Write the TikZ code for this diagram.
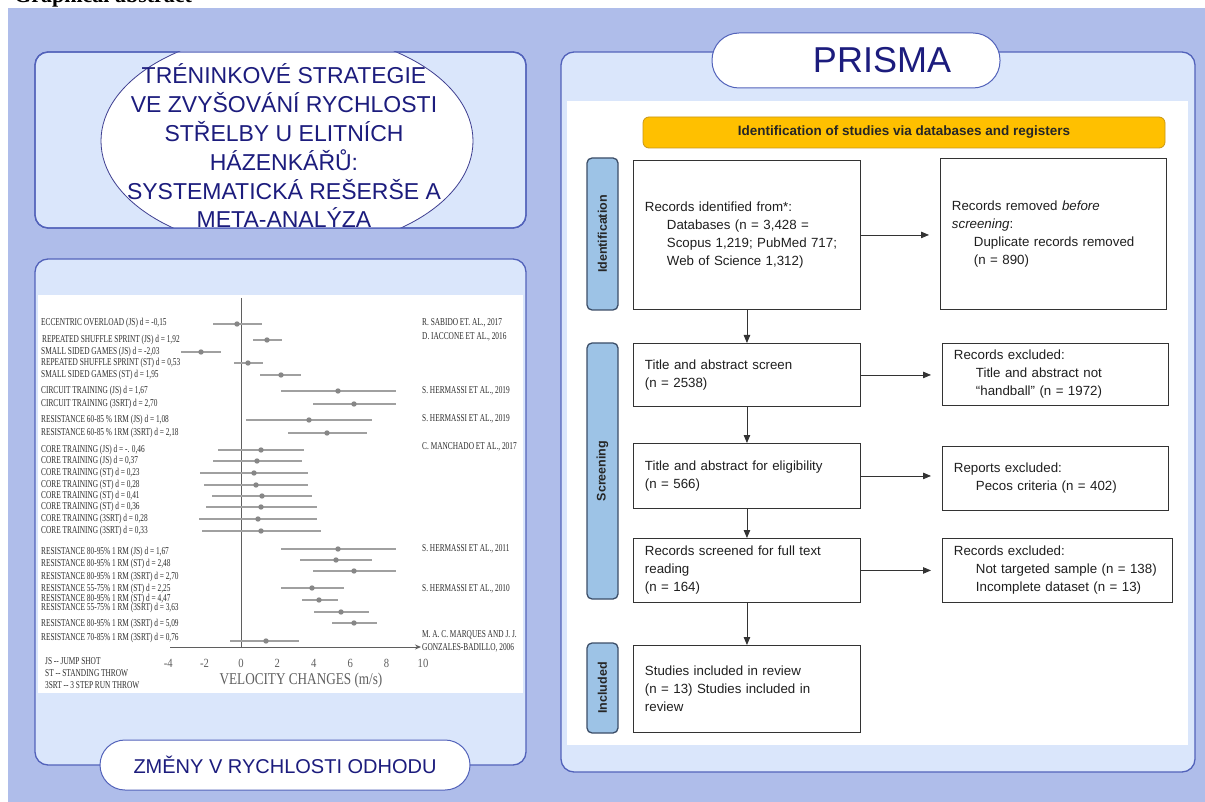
\documentclass[tikz,border=0pt]{standalone}
\usepackage{fontspec}
\setmainfont{Liberation Sans}
\newfontfamily\plotserif{Liberation Serif}
\usepackage{graphicx}
\usetikzlibrary{arrows.meta,shapes.geometric}

\definecolor{bgblue}{RGB}{175,189,234}
\definecolor{panelfill}{RGB}{218,230,251}
\definecolor{panelline}{RGB}{82,98,186}
\definecolor{navy}{RGB}{28,28,125}
\definecolor{phasefill}{RGB}{157,195,230}
\definecolor{phaseline}{RGB}{60,78,104}
\definecolor{gold}{RGB}{255,192,0}
\definecolor{goldline}{RGB}{200,150,20}
\definecolor{cigray}{RGB}{160,160,160}
\definecolor{dotgray}{RGB}{135,135,135}
\definecolor{plottext}{RGB}{45,45,45}
\definecolor{axisgray}{RGB}{95,95,95}

% horizontally condensed text for the forest plot
\newcommand{\cond}[1]{\scalebox{0.7}[1]{#1}}

\begin{document}
\begin{tikzpicture}[x=1pt,y=-1pt,
  panel/.style={draw=panelline,line width=1.3pt,fill=panelfill,rounded corners=13pt},
  pill/.style={draw=panelline,line width=1pt,fill=white,text=navy,inner sep=0pt},
  prbox/.style={draw=black!80,line width=0.9pt,fill=white,anchor=north west,align=left,
    inner xsep=11.5pt,inner ysep=0pt,text=black!88,font=\fontsize{13.3}{18}\selectfont},
  phase/.style={draw=phaseline,line width=1.3pt,fill=phasefill,rounded corners=5pt,rotate=90,
    font=\bfseries\fontsize{12.5}{14}\selectfont,text=black!85,minimum height=31pt,inner sep=0pt},
  flow/.style={draw=black!80,line width=0.8pt,-{Triangle[length=8pt,width=6.5pt]}},
  fplabel/.style={anchor=west,inner sep=0pt,text=plottext,font=\plotserif\fontsize{10.5}{11}\selectfont},
  ci/.style={draw=cigray,line width=1.3pt},
  tick/.style={text=axisgray,inner sep=0pt,font=\plotserif\fontsize{12.5}{13}\selectfont}
]
\useasboundingbox (0,0) rectangle (1205,802);

% page heading, cut by the top edge
\node[anchor=base west,inner sep=0pt,font=\plotserif\bfseries\fontsize{22}{24}\selectfont] (heading) at (14,3) {Graphical abstract};

% background and panels
\fill[bgblue] (8,8) rectangle (1205,802);
\draw[panel] (35,52) rectangle (526,228);
\draw[panel] (35,259) rectangle (526,765);
\draw[panel] (561,52) rectangle (1195,772);
\fill[white] (38,295) rectangle (523,693);
\fill[white] (567,101) rectangle (1188,745);

% title oval, flattened by the panel edges
\begin{scope}
  \clip (35,52) rectangle (526,228);
  \node[ellipse,draw=navy!85,line width=0.8pt,fill=white,minimum width=372pt,minimum height=220pt,inner sep=0pt] (oval) at (287,141) {};
\end{scope}
\draw[panelline,line width=1.3pt,rounded corners=13pt] (35,52) rectangle (526,228);
\node[align=center,text=navy,inner sep=0pt,font=\fontsize{23}{28.8}\selectfont] (title) at (284,146)
  {TRÉNINKOVÉ STRATEGIE\\VE ZVYŠOVÁNÍ RYCHLOSTI\\STŘELBY U ELITNÍCH\\HÁZENKÁŘŮ:\\SYSTEMATICKÁ REŠERŠE A\\META-ANALÝZA};

% pill captions
\node[pill,rounded corners=27pt,minimum width=288pt,minimum height=55pt] (prisma) at (856,60.5) {};
\node[text=navy,inner sep=0pt,font=\fontsize{36}{40}\selectfont] (prismatext) at (882,60.5) {PRISMA};
\node[pill,rounded corners=25pt,minimum width=370pt,minimum height=50pt,font=\fontsize{20}{24}\selectfont] (changes) at (285,765) {ZMĚNY V RYCHLOSTI ODHODU};

% ---------------- PRISMA flow ----------------
\node[draw=goldline,line width=0.8pt,fill=gold,rounded corners=6pt,minimum width=522pt,minimum height=31pt,inner sep=0pt,
  font=\bfseries\fontsize{13.5}{15}\selectfont,text=black!85] (idbar) at (904,132.5) {Identification of studies via databases and registers};

\node[phase,minimum width=152pt] (phId) at (602.5,234) {Identification};
\node[phase,minimum width=256pt] (phSc) at (602.5,471) {Screening};
\node[phase,minimum width=90pt]  (phIn) at (602.5,688) {Included};

\node[prbox,text width=204pt,minimum height=149pt] (b1) at (633,160)
  {\mbox{Records identified from*:}\\
   \mbox{\hspace*{22pt}Databases (n = 3,428 =}\\
   \mbox{\hspace*{22pt}Scopus 1,219; PubMed 717;}\\
   \mbox{\hspace*{22pt}Web of Science 1,312)}};
\node[prbox,text width=203pt,minimum height=151pt] (r1) at (940,158)
  {\mbox{Records removed \textit{before}}\\
   \mbox{\textit{screening}:}\\
   \mbox{\hspace*{22pt}Duplicate records removed}\\
   \mbox{\hspace*{22pt}(n = 890)}};

\node[prbox,text width=204pt,minimum height=63pt] (b2) at (633,343)
  {\mbox{Title and abstract screen}\\(n = 2538)};
\node[prbox,text width=203pt,minimum height=62pt] (r2) at (942,343)
  {\mbox{Records excluded:}\\
   \mbox{\hspace*{22pt}Title and abstract not}\\
   \mbox{\hspace*{22pt}“handball” (n = 1972)}};

\node[prbox,text width=204pt,minimum height=65pt] (b3) at (633,443)
  {\mbox{Title and abstract for eligibility}\\(n = 566)};
\node[prbox,text width=203pt,minimum height=64pt] (r3) at (942,446)
  {\mbox{Reports excluded:}\\
   \mbox{\hspace*{22pt}Pecos criteria (n = 402)}};

\node[prbox,text width=204pt,minimum height=64pt] (b4) at (633,538)
  {\mbox{Records screened for full text}\\reading\\(n = 164)};
\node[prbox,text width=207pt,minimum height=64pt] (r4) at (942,538)
  {\mbox{Records excluded:}\\
   \mbox{\hspace*{22pt}Not targeted sample (n = 138)}\\
   \mbox{\hspace*{22pt}Incomplete dataset (n = 13)}};

\node[prbox,text width=204pt,minimum height=87pt] (b5) at (633,645)
  {\mbox{Studies included in review}\\\mbox{(n = 13) Studies included in}\\review};

\draw[flow] (b1.south) -- (b2.north);
\draw[flow] (b2.south) -- (b3.north);
\draw[flow] (b3.south) -- (b4.north);
\draw[flow] (b4.south) -- (b5.north);
\draw[flow,shorten >=11pt] (b1.east) -- (b1.east -| r1.west);
\draw[flow,shorten >=11pt] (b2.east) -- (b2.east -| r2.west);
\draw[flow,shorten >=11pt] (b3.east) -- (b3.east -| r3.west);
\draw[flow,shorten >=11pt] (b4.east) -- (b4.east -| r4.west);

% ---------------- forest plot ----------------
\draw[axisgray,line width=0.9pt] (241,298) -- (241,648);
\draw[axisgray,line width=0.9pt,-{Stealth[length=6pt,width=5pt]}] (170,647) -- (421,647);

\foreach \v/\t [count=\i] in {-4/-4,-2/-2,0/0,2/2,4/4,6/6,8/8,10/10}
  \node[tick] (tk\i) at ({241+18.2*\v},663) {\scalebox{0.85}[1]{\t}};
\node[tick,font=\plotserif\fontsize{16.5}{18}\selectfont] (axtitle) at (301,681) {\scalebox{0.8}[1]{VELOCITY CHANGES (m/s)}};

\foreach \cy/\lo/\hi/\pt in {324/213/262/237, 340/253/282/267, 352/181/221/201, 363/234/263/248,
    375/260/301/281, 391/281/396/338, 404/313/396/354, 420/246/372/309, 433/288/367/327,
    450/218/304/261, 461/213/302/257, 473/200/308/254, 485/204/308/256, 496/212/312/262,
    507/206/317/261, 519/199/317/258, 531/202/321/261, 549/281/396/338, 560/300/372/336,
    571/313/396/354, 588/281/344/312, 600/302/338/319, 612/314/369/341, 623/332/377/354,
    641/230/299/266}
{
  \draw[ci] (\lo,\cy) -- (\hi,\cy);
  \fill[dotgray] (\pt,\cy) circle (2.7pt);
}

\node[fplabel] (e1)  at (41,323) {\cond{ECCENTRIC OVERLOAD (JS) d = -0,15}};
\node[fplabel] (e2)  at (42,340) {\cond{REPEATED SHUFFLE SPRINT (JS) d = 1,92}};
\node[fplabel] (e3)  at (41,352) {\cond{SMALL SIDED GAMES (JS) d = -2,03}};
\node[fplabel] (e4)  at (41,363) {\cond{REPEATED SHUFFLE SPRINT (ST) d = 0,53}};
\node[fplabel] (e5)  at (41,375) {\cond{SMALL SIDED GAMES (ST) d = 1,95}};
\node[fplabel] (e6)  at (41,391) {\cond{CIRCUIT TRAINING (JS) d = 1,67}};
\node[fplabel] (e7)  at (41,404) {\cond{CIRCUIT TRAINING (3SRT) d = 2,70}};
\node[fplabel] (e8)  at (41,420) {\cond{RESISTANCE 60-85 \% 1RM (JS) d = 1,08}};
\node[fplabel] (e9)  at (41,433) {\cond{RESISTANCE 60-85 \% 1RM (3SRT) d = 2,18}};
\node[fplabel] (e10) at (41,450) {\cond{CORE TRAINING (JS) d = -. 0,46}};
\node[fplabel] (e11) at (41,461) {\cond{CORE TRAINING (JS) d = 0,37}};
\node[fplabel] (e12) at (41,473) {\cond{CORE TRAINING (ST) d = 0,23}};
\node[fplabel] (e13) at (41,485) {\cond{CORE TRAINING (ST) d = 0,28}};
\node[fplabel] (e14) at (41,496) {\cond{CORE TRAINING (ST) d = 0,41}};
\node[fplabel] (e15) at (41,507) {\cond{CORE TRAINING (ST) d = 0,36}};
\node[fplabel] (e16) at (41,519) {\cond{CORE TRAINING (3SRT) d = 0,28}};
\node[fplabel] (e17) at (41,531) {\cond{CORE TRAINING (3SRT) d = 0,33}};
\node[fplabel] (e18) at (41,552) {\cond{RESISTANCE 80-95\% 1 RM (JS) d = 1,67}};
\node[fplabel] (e19) at (41,564) {\cond{RESISTANCE 80-95\% 1 RM (ST) d = 2,48}};
\node[fplabel] (e20) at (41,577) {\cond{RESISTANCE 80-95\% 1 RM (3SRT) d = 2,70}};
\node[fplabel] (e21) at (41,589) {\cond{RESISTANCE 55-75\% 1 RM (ST) d = 2,25}};
\node[fplabel] (e22) at (41,598.5) {\cond{RESISTANCE 80-95\% 1 RM (ST) d = 4,47}};
\node[fplabel] (e23) at (41,607.5) {\cond{RESISTANCE 55-75\% 1 RM (3SRT) d = 3,63}};
\node[fplabel] (e24) at (41,624) {\cond{RESISTANCE 80-95\% 1 RM (3SRT) d = 5,09}};
\node[fplabel] (e25) at (41,638) {\cond{RESISTANCE 70-85\% 1 RM (3SRT) d = 0,76}};

\node[fplabel] (a1) at (422,323) {\cond{R. SABIDO ET. AL., 2017}};
\node[fplabel] (a2) at (422,337) {\cond{D. IACCONE ET AL., 2016}};
\node[fplabel] (a3) at (422,391) {\cond{S. HERMASSI ET AL., 2019}};
\node[fplabel] (a4) at (422,419) {\cond{S. HERMASSI ET AL., 2019}};
\node[fplabel] (a5) at (422,447) {\cond{C. MANCHADO ET AL., 2017}};
\node[fplabel] (a6) at (422,549) {\cond{S. HERMASSI ET AL., 2011}};
\node[fplabel] (a7) at (422,589) {\cond{S. HERMASSI ET AL., 2010}};
\node[fplabel] (a8) at (422,635) {\cond{M. A. C. MARQUES AND J. J.}};
\node[fplabel] (a9) at (422,648) {\cond{GONZALES-BADILLO, 2006}};

\node[fplabel] (g1) at (45,661) {\cond{JS -- JUMP SHOT}};
\node[fplabel] (g2) at (45,673) {\cond{ST -- STANDING THROW}};
\node[fplabel] (g3) at (45,685) {\cond{3SRT -- 3 STEP RUN THROW}};
\end{tikzpicture}
\end{document}
